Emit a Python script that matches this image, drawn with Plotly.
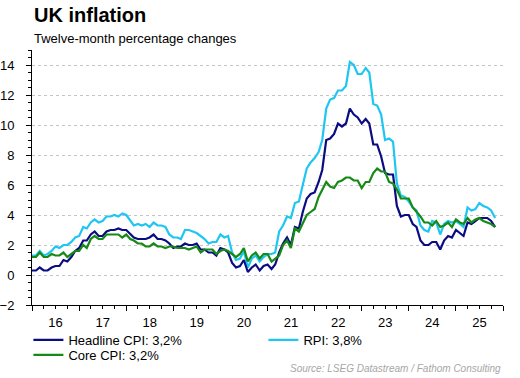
import pandas as pd
import plotly.graph_objects as go

# Monthly twelve-month % changes, Jan 2016 - Nov 2025
headline_cpi = [
    0.3, 0.3, 0.5, 0.3, 0.3, 0.5, 0.6, 0.6, 1.0, 0.9, 1.2, 1.6,
    1.8, 2.3, 2.3, 2.7, 2.9, 2.6, 2.6, 2.9, 3.0, 3.0, 3.1, 3.0,
    3.0, 2.7, 2.5, 2.4, 2.4, 2.4, 2.5, 2.7, 2.4, 2.4, 2.3, 2.1,
    1.8, 1.9, 1.9, 2.1, 2.0, 2.0, 2.1, 1.7, 1.7, 1.5, 1.5, 1.3,
    1.8, 1.7, 1.5, 0.8, 0.5, 0.6, 1.0, 0.2, 0.5, 0.7, 0.3, 0.6,
    0.7, 0.4, 0.7, 1.5, 2.1, 2.5, 2.0, 3.2, 3.1, 4.2, 5.1, 5.4,
    5.5, 6.2, 7.0, 9.0, 9.1, 9.4, 10.1, 9.9, 10.1, 11.1, 10.7, 10.5,
    10.1, 10.4, 10.1, 8.7, 8.7, 7.9, 6.8, 6.7, 6.7, 4.6, 3.9, 4.0,
    4.0, 3.4, 3.2, 2.3, 2.0, 2.0, 2.2, 2.2, 1.7, 2.3, 2.6, 2.5,
    3.0, 2.8, 2.6, 3.5, 3.4, 3.6, 3.8, 3.8, 3.8, 3.6, 3.2,
]
core_cpi = [
    1.2, 1.2, 1.5, 1.2, 1.2, 1.4, 1.3, 1.3, 1.5, 1.2, 1.4, 1.6,
    1.6, 2.0, 1.8, 2.4, 2.6, 2.4, 2.4, 2.7, 2.7, 2.7, 2.7, 2.5,
    2.7, 2.4, 2.3, 2.1, 2.1, 1.9, 1.9, 2.1, 1.9, 1.9, 1.8, 1.9,
    1.9, 1.8, 1.8, 1.8, 1.7, 1.8, 1.9, 1.5, 1.7, 1.7, 1.7, 1.4,
    1.6, 1.7, 1.6, 1.4, 1.2, 1.4, 1.8, 0.9, 1.3, 1.5, 1.1, 1.4,
    1.4, 0.9, 1.1, 1.3, 2.0, 2.3, 1.8, 3.1, 2.9, 3.4, 4.0, 4.2,
    4.4, 5.2, 5.7, 6.2, 5.9, 5.8, 6.2, 6.3, 6.5, 6.5, 6.3, 6.3,
    5.8, 6.2, 6.2, 6.8, 7.1, 6.9, 6.9, 6.2, 6.1, 5.7, 5.1, 5.1,
    5.1, 4.5, 4.2, 3.9, 3.5, 3.5, 3.3, 3.6, 3.2, 3.3, 3.5, 3.2,
    3.7, 3.5, 3.4, 3.8, 3.5, 3.7, 3.8, 3.6, 3.5, 3.4, 3.2,
]
rpi = [
    1.3, 1.3, 1.6, 1.3, 1.4, 1.6, 1.9, 1.8, 2.0, 2.0, 2.2, 2.5,
    2.6, 3.2, 3.1, 3.5, 3.7, 3.5, 3.6, 3.9, 3.9, 4.0, 3.9, 4.1,
    4.0, 3.6, 3.3, 3.4, 3.3, 3.4, 3.2, 3.5, 3.3, 3.3, 3.2, 2.7,
    2.5, 2.5, 2.4, 3.0, 3.0, 2.9, 2.8, 2.6, 2.4, 2.1, 2.2, 2.2,
    2.7, 2.5, 2.6, 1.5, 1.0, 1.1, 1.6, 0.5, 1.1, 1.3, 0.9, 1.2,
    1.4, 1.4, 1.5, 2.9, 3.3, 3.9, 3.8, 4.8, 4.9, 6.0, 7.1, 7.5,
    7.8, 8.2, 9.0, 11.1, 11.7, 11.8, 12.3, 12.3, 12.6, 14.2, 14.0, 13.4,
    13.4, 13.8, 13.5, 11.4, 11.3, 10.7, 9.0, 9.1, 8.9, 6.1, 5.3, 5.2,
    4.9, 4.5, 4.3, 3.3, 3.0, 2.9, 3.6, 3.5, 2.7, 3.4, 3.6, 3.5,
    3.6, 3.4, 3.2, 4.5, 4.3, 4.4, 4.8, 4.6, 4.5, 4.3, 3.8,
]
dates = pd.date_range("2016-01-01", periods=len(headline_cpi), freq="MS")

names = {"headline": "Headline CPI: 3,2%", "rpi": "RPI: 3,8%", "core": "Core CPI: 3,2%"}
colors = {"headline": "#0c0c82", "rpi": "#1fc6f2", "core": "#158a15"}

W, H = 520, 378

fig = go.Figure()
fig.add_trace(go.Scatter(x=dates, y=rpi, name=names["rpi"], mode="lines",
                         line=dict(color=colors["rpi"], width=2.2), legendrank=2,
                         legend="legend"))
fig.add_trace(go.Scatter(x=dates, y=headline_cpi, name=names["headline"], mode="lines",
                         line=dict(color=colors["headline"], width=2.2), legendrank=1,
                         legend="legend"))
fig.add_trace(go.Scatter(x=dates, y=core_cpi, name=names["core"], mode="lines",
                         line=dict(color=colors["core"], width=2.2), legendrank=3,
                         legend="legend2"))

font = "Liberation Sans, Arial, sans-serif"
leg_common = dict(orientation="h", xref="container", yref="container",
                  xanchor="left", yanchor="top",
                  entrywidth=190, entrywidthmode="pixels",
                  font=dict(size=13), bgcolor="rgba(0,0,0,0)", traceorder="normal")
fig.update_layout(
    width=W, height=H,
    margin=dict(l=32, r=17, t=50, b=73, autoexpand=False),
    paper_bgcolor="white", plot_bgcolor="white",
    font=dict(family=font, size=13, color="black"),
    showlegend=True,
    legend=dict(x=28.4 / W, y=1 - 325 / H, **leg_common),
    legend2=dict(x=28.4 / W, y=1 - 340 / H, **leg_common),
    xaxis=dict(type="date", range=["2016-01-01", "2026-01-01"],
               dtick="M12", tick0="2016-01-01", tickformat="%y",
               ticklabelmode="period", ticks="outside", ticklen=5,
               tickcolor="black", showline=True, linecolor="black",
               showgrid=False, zeroline=False,
               minor=dict(dtick="M3", ticks="outside", ticklen=3,
                          tickcolor="black", showgrid=False),
               tickfont=dict(size=13)),
    yaxis=dict(range=[-2, 15], dtick=2, tick0=0, ticks="outside", ticklen=5,
               tickcolor="black", showline=True, linecolor="black",
               showgrid=True, gridcolor="#c4c4c4", griddash="dot", gridwidth=1,
               zeroline=False, ticklabelstandoff=9,
               minor=dict(dtick=0.5, ticks="outside", ticklen=3,
                          tickcolor="black", showgrid=False),
               tickfont=dict(size=13)),
    annotations=[
        dict(text="<b>UK inflation</b>", xref="paper", yref="paper",
             x=0, y=1, xshift=0, yshift=35, xanchor="left", yanchor="middle",
             showarrow=False, font=dict(size=20, family=font)),
        dict(text="Twelve-month percentage changes", xref="paper", yref="paper",
             x=0, y=1, yshift=12, xanchor="left", yanchor="middle",
             showarrow=False, font=dict(size=13, family=font)),
        dict(text="<i>Source: LSEG Datastream / Fathom Consulting</i>",
             xref="paper", yref="paper", x=1, y=0, yshift=-63,
             xanchor="right", yanchor="middle", showarrow=False,
             font=dict(size=10, color="#a6a6a6", family=font)),
    ],
)

fig.write_html("out.html", config={"displayModeBar": False},
               post_script="document.body.style.margin='0';")
